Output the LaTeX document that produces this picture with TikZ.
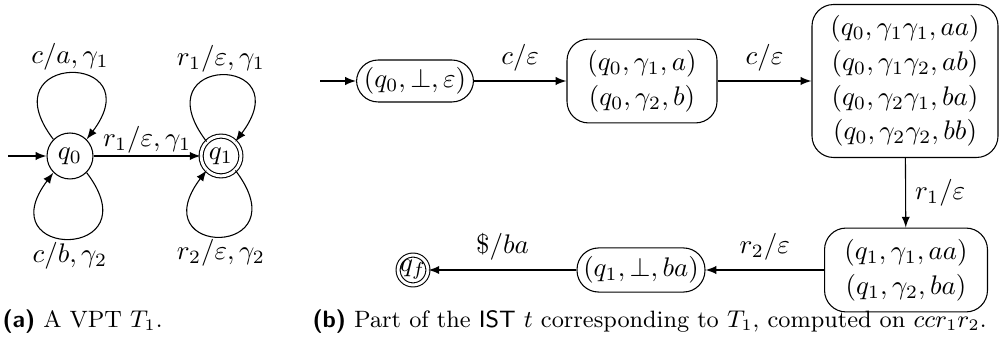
\documentclass[tikz,border=0pt]{standalone}
\usepackage{amsmath,amssymb}
\usetikzlibrary{arrows}
\begin{document}
\begin{tikzpicture}[x=0.372pt,y=0.372pt,>=latex,
  state/.style={circle,draw,inner sep=0pt,minimum size=17.1pt},
  accept/.style={circle,draw,double,double distance=1.1pt,inner sep=0pt,minimum size=14.8pt},
  cfg/.style={draw,rounded corners=8pt,align=center,inner sep=2pt},
  lbl/.style={inner sep=1pt},
  capt/.style={anchor=west,inner sep=0pt,font=\fontsize{8.8}{10.5}\selectfont}]
\useasboundingbox (0,0) rectangle (1000,-352);
% (a)
\node[state] (q0) at (70,-156) {$q_0$};
\node[accept] (q1) at (221,-156) {$q_1$};
\coordinate (i0) at (8,-156);
\draw[->] (i0) -- (q0);
\draw[->] (q0) -- node[above,inner sep=0pt,yshift=1pt] {$r_1/\varepsilon,\gamma_1$} (q1);
\draw[->] (q0.135) .. controls +(-67,88) and +(67,88) .. node[above,lbl] {$c/a,\gamma_1$} (q0.45);
\draw[->] (q0.-45) .. controls +(67,-88) and +(-67,-88) .. node[below,lbl] {$c/b,\gamma_2$} (q0.-135);
\draw[->] (q1.135) .. controls +(-67,88) and +(67,88) .. node[above,lbl] {$r_1/\varepsilon,\gamma_1$} (q1.45);
\draw[->] (q1.-45) .. controls +(67,-88) and +(-67,-88) .. node[below,lbl] {$r_2/\varepsilon,\gamma_2$} (q1.-135);
% (b)
\node[cfg,minimum width=43.5pt,minimum height=15.6pt] (A) at (415,-81) {$(q_0,\bot,\varepsilon)$};
\node[cfg,minimum width=55.8pt,minimum height=31.2pt] (B) at (642,-81) {$(q_0,\gamma_1,a)$\\[0.9pt]$(q_0,\gamma_2,b)$};
\node[cfg,minimum width=69.2pt,minimum height=56.9pt] (C) at (905,-81) {$(q_0,\gamma_1\gamma_1,aa)$\\[0.9pt]$(q_0,\gamma_1\gamma_2,ab)$\\[0.9pt]$(q_0,\gamma_2\gamma_1,ba)$\\[0.9pt]$(q_0,\gamma_2\gamma_2,bb)$};
\node[cfg,minimum width=60.6pt,minimum height=31.2pt] (D) at (906,-270) {$(q_1,\gamma_1,aa)$\\[0.9pt]$(q_1,\gamma_2,ba)$};
\node[cfg,minimum width=47.6pt,minimum height=16.4pt] (E) at (641,-270) {$(q_1,\bot,ba)$};
\node[circle,draw,double,double distance=1.1pt,inner sep=-1.2pt,minimum size=11.1pt] (qf) at (413,-270) {$q_f$};
\coordinate (i1) at (320,-81);
\draw[->] (i1) -- (A);
\draw[->] (A) -- node[above] {$c/\varepsilon$} (B);
\draw[->] (B) -- node[above] {$c/\varepsilon$} (C);
\draw[->] (C) -- node[right] {$r_1/\varepsilon$} (D);
\draw[->] (D) -- node[above] {$r_2/\varepsilon$} (E);
\draw[->] (E) -- node[above] {$\$/ba$} (qf);
% captions
\node[capt] (capa) at (2,-322) {\textsf{\textbf{(a)}} A VPT $T_1$.};
\node[capt] (capb) at (312,-322) {\textsf{\textbf{(b)}} Part of the \textsf{IST} $t$ corresponding to $T_1$, computed on $ccr_1r_2$.};
\end{tikzpicture}
\end{document}
